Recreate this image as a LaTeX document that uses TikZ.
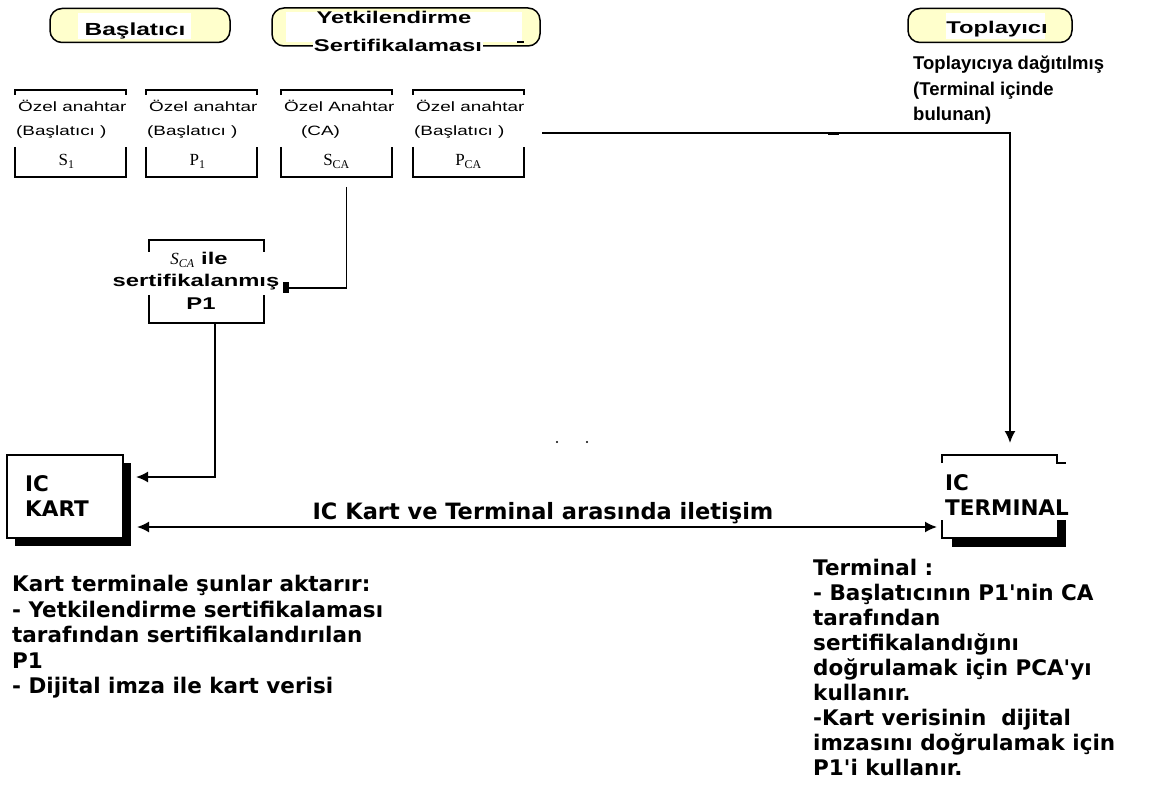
\documentclass[tikz,border=0pt]{standalone}
\usepackage{fontspec}
\setmainfont{Liberation Sans}
\newfontfamily\widesans{Liberation Sans}[FakeStretch=1.4]
\newfontfamily\keyserif{Liberation Serif}
\newfontfamily\verafont{DejaVu Sans}
\usetikzlibrary{arrows.meta,calc,shadows}
\definecolor{pillyellow}{RGB}{255,255,204}

\tikzset{
  pill/.style={draw=black, line width=1.5pt, fill=pillyellow, rounded corners=12pt, inner sep=0pt, outer sep=0pt},
  patch/.style={fill=white, draw=none, inner sep=0pt, outer sep=0pt},
  pilltext/.style={font=\widesans\bfseries\fontsize{17}{20}\selectfont, inner sep=0pt, anchor=base},
  keybox/.style={minimum width=111pt, minimum height=87pt, inner sep=0pt, outer sep=0pt},
  frame/.style={draw=black, line width=1.8pt},
  keytext/.style={font=\widesans\fontsize{13.5}{16}\selectfont, inner sep=0pt, anchor=base west},
  keysub/.style={font=\keyserif\fontsize{17}{19}\selectfont, inner sep=0pt, anchor=base},
  conn/.style={draw=black, line width=1.8pt},
  tip/.tip={Latex[length=12pt,width=11pt]},
  bodytext/.style={font=\verafont\bfseries\fontsize{21.5}{25.5}\selectfont, inner sep=0pt, align=left},
  notetext/.style={font=\bfseries\fontsize{18.5}{25.5}\selectfont, inner sep=0pt, align=left}
}

% bracket-style frame: short ticks at the top, open sides, closed bottom
\newcommand\keyframe[3]{%
  \draw[frame] ($(#1.north west)+(0,#2)$) -- (#1.north west) -- (#1.north east) -- ($(#1.north east)+(0,#2)$);
  \draw[frame] ($(#1.south west)+(0,-#3)$) -- (#1.south west) -- (#1.south east) -- ($(#1.south east)+(0,-#3)$);
}

\begin{document}
\begin{tikzpicture}[x=1pt,y=-1pt]
\useasboundingbox (0,0) rectangle (1154,786);
\fill[white] (0,0) rectangle (1154,786);

% ---- role headers ----
\node[pill, minimum width=180pt, minimum height=34pt] (initpill) at (140,25.5) {};
\node[patch, minimum width=113pt, minimum height=26pt] (initpatch) at (134,26.5) {};
\node[pilltext, font=\widesans\bfseries\fontsize{17.5}{20}\selectfont] (initlabel) at (135,36) {Başlatıcı};

\node[pill, minimum width=268pt, minimum height=38pt] (capill) at (406,27) {};
\node[patch, minimum width=236pt, minimum height=30pt] (capatch) at (404,27) {};
\node[pilltext] (catitle) at (394,24) {Yetkilendirme};
\node[pilltext, fill=white, inner xsep=1pt] (casub) at (398,52) {Sertifikalaması};
\draw[line width=1.2pt] (517,42) -- (524,42);

\node[pill, minimum width=164pt, minimum height=34pt] (colpill) at (990,25.5) {};
\node[patch, minimum width=99pt, minimum height=26pt] (colpatch) at (995,26.5) {};
\node[pilltext] (collabel) at (997,33.5) {Toplayıcı};
\node[notetext, anchor=north west] (colnote) at (913,56) {Toplayıcıya dağıtılmış\\(Terminal içinde\\bulunan)};

% ---- key boxes ----
\node[keybox] (k1) at (70.5,133.5) {};
\node[keybox] (k2) at (201.5,133.5) {};
\node[keybox] (k3) at (336.5,133.5) {};
\node[keybox] (k4) at (468.5,133.5) {};
\foreach \k in {k1,k2,k3,k4} {\keyframe{\k}{5}{30}}

\node[keytext] (k1a) at ($(k1.north west)+(3,22)$) {Özel anahtar};
\node[keytext] (k1b) at ($(k1.north west)+(1,46)$) {(Başlatıcı )};
\node[keysub] (k1c) at ($(k1.north)+(-4,76)$) {S\textsubscript{1}};

\node[keytext] (k2a) at ($(k2.north west)+(3,22)$) {Özel anahtar};
\node[keytext] (k2b) at ($(k2.north west)+(1,46)$) {(Başlatıcı )};
\node[keysub] (k2c) at ($(k2.north)+(-4,76)$) {P\textsubscript{1}};

\node[keytext] (k3a) at ($(k3.north west)+(3,22)$) {Özel Anahtar};
\node[keytext] (k3b) at ($(k3.north west)+(20,46)$) {(CA)};
\node[keysub] (k3c) at ($(k3.north)+(0,76)$) {S\textsubscript{CA}};

\node[keytext] (k4a) at ($(k4.north west)+(3,22)$) {Özel anahtar};
\node[keytext] (k4b) at ($(k4.north west)+(1,46)$) {(Başlatıcı )};
\node[keysub] (k4c) at ($(k4.north)+(0,76)$) {P\textsubscript{CA}};

% ---- certified public key ----
\node[minimum width=115pt, minimum height=83pt, inner sep=0pt, outer sep=0pt] (p1) at (206.5,281.5) {};
\keyframe{p1}{12}{28}
\node[pilltext] (p1a) at (199,265) {{\keyserif\mdseries\itshape\fontsize{17}{19}\selectfont S\textsubscript{CA}} ile};
\node[pilltext] (p1b) at (196,287) {sertifikalanmış};
\node[pilltext] (p1c) at (201,310) {P1};

% ---- IC card ----
\node[draw, line width=1.5pt, fill=white, minimum width=116pt, minimum height=83pt, inner sep=0pt, outer sep=0pt,
      drop shadow={shadow xshift=8pt, shadow yshift=-8pt, fill=black, opacity=1}] (kart) at (65,496.5) {};
\node[bodytext, anchor=north west] (kartlabel) at (25,475) {IC\\KART};

% ---- IC terminal ----
\node[minimum width=115pt, minimum height=83pt, inner sep=0pt, outer sep=0pt] (term) at (999.5,496.5) {};
\draw[frame] ($(term.north west)+(0,8)$) -- (term.north west) -- (term.north east) -- ($(term.north east)+(0,8)$) -- ++(9,0);
\draw[frame] ($(term.south west)+(0,-18)$) -- (term.south west) -- (term.south east);
\fill ($(term.south west)+(10,0)$) rectangle ($(term.south east)+(9,9)$);
\fill ($(term.south east)+(0,-18)$) rectangle ($(term.south east)+(9,9)$);
\node[bodytext, anchor=north west] (termlabel) at (945,474) {IC\\TERMINAL};

% ---- connectors ----
\draw[conn, -{Square[length=6pt,width=11pt]}] ($(k3.south)+(10,10)$) |- ($(p1.east)+(19,6.5)$);
\draw[conn, -tip] ($(p1.south)+(8.5,0)$) |- ($(kart.east)+(13,-19.5)$);
\draw[conn, tip-tip] ($(kart.east)+(14,30.5)$) -- ($(term.west)+(-5,30.5)$);
\draw[conn, -tip] ($(k4.east)+(18,-0.5)$) -| ($(term.north)+(10.5,-12)$);
\fill (828,132) rectangle (839,135.5);
\node[bodytext, anchor=base, font=\verafont\bfseries\fontsize{22.5}{25.5}\selectfont] (link) at (543,519) {IC Kart ve Terminal arasında iletişim};

\fill (557,442) circle (1.2);
\fill (587,442) circle (1.2);

% ---- explanations ----
\node[bodytext, anchor=north west] (kartnote) at (12,575) {Kart terminale şunlar aktarır:\\- Yetkilendirme sertifikalaması\\tarafından sertifikalandırılan\\P1\\- Dijital imza ile kart verisi};
\node[bodytext, anchor=north west, font=\verafont\bfseries\fontsize{21.5}{25}\selectfont] (termnote) at (813,559) {Terminal :\\- Başlatıcının P1'nin CA\\tarafından\\sertifikalandığını\\doğrulamak için PCA'yı\\kullanır.\\-Kart verisinin\ \ dijital\\imzasını doğrulamak için\\P1'i kullanır.};
\end{tikzpicture}
\end{document}
